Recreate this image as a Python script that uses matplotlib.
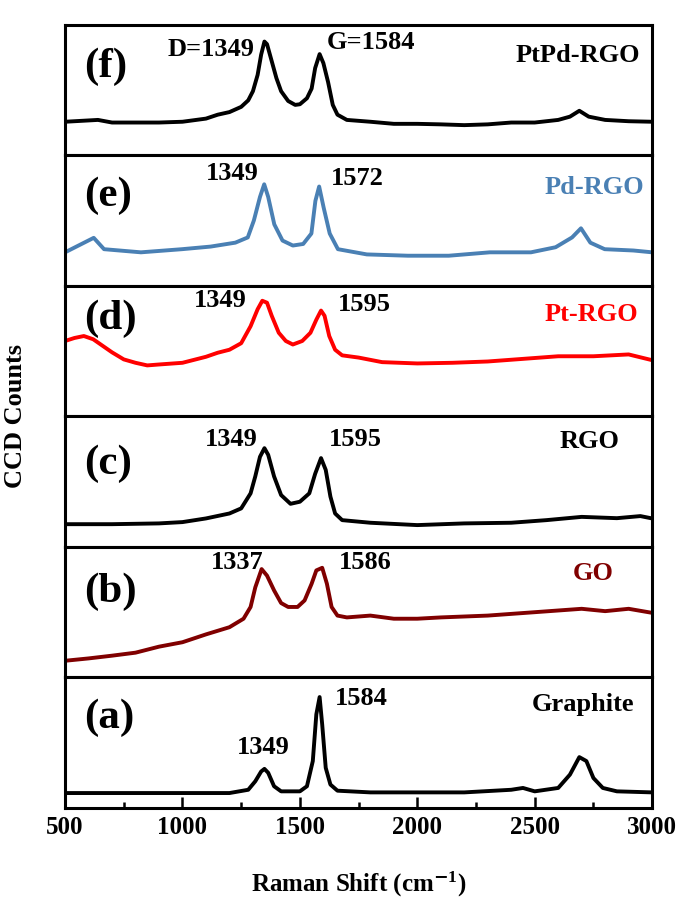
import numpy as np
from matplotlib import pyplot as plt

plt.rcParams['font.family'] = ['Liberation Serif', 'DejaVu Serif']
plt.rcParams['font.weight'] = 'bold'
plt.rcParams['axes.labelweight'] = 'bold'
plt.rcParams['mathtext.fontset'] = 'custom'
plt.rcParams['mathtext.rm'] = 'Liberation Serif:bold'
plt.rcParams['mathtext.bf'] = 'Liberation Serif:bold'
plt.rcParams['mathtext.default'] = 'rm'

# spectra (intensity in % of each panel height)
graphite_x = [500, 1000, 1200, 1280, 1310, 1335, 1349, 1365, 1390, 1420, 1500, 1530, 1555, 1570, 1584, 1595, 1610, 1630, 1660,
              1800, 2000, 2200, 2400, 2450, 2500, 2600, 2650, 2690, 2720, 2750, 2790, 2850, 3000]
graphite_y = [11.5, 11.5, 11.5, 14, 20.5, 28, 30, 27, 16.7, 12.8, 12.8, 16.7, 36, 71.8, 85, 64, 30.8, 18, 13.3,
              12, 12, 12, 14, 15.4, 12.8, 15.4, 25.6, 39, 36, 23, 15.4, 12.8, 12]

go_x = [500, 600, 700, 800, 900, 1000, 1100, 1200, 1260, 1290, 1310, 1337, 1360, 1390, 1420, 1450, 1490, 1520, 1550, 1570,
        1595, 1615, 1635, 1660, 1700, 1800, 1900, 2000, 2100, 2300, 2500, 2700, 2800, 2900, 3000]
go_y = [12.8, 14.6, 16.7, 19, 23.6, 27, 33, 38.5, 45, 54, 69, 83, 78, 66.7, 57, 54, 54, 59, 71.8, 82,
        84, 71.8, 54, 47.4, 46, 47.4, 45, 45, 46, 47.4, 50, 52.6, 50.8, 52.6, 49.5]

rgo_x = [500, 700, 900, 1000, 1100, 1200, 1250, 1290, 1310, 1330, 1349, 1365, 1390, 1420, 1460, 1500, 1540, 1565, 1590,
         1610, 1630, 1650, 1680, 1800, 2000, 2200, 2400, 2550, 2700, 2850, 2950, 3000]
rgo_y = [17.4, 17.4, 18, 19, 21.8, 25.6, 29.5, 41, 54, 69, 75.6, 70.5, 54, 39.7, 33, 34.6, 41, 56, 68,
         59, 38.5, 25.6, 20.5, 18.5, 16.7, 18, 18.5, 20.5, 23, 22, 23.6, 21.8]

pt_x = [500, 540, 580, 620, 660, 700, 750, 800, 850, 900, 1000, 1100, 1150, 1200, 1250, 1290, 1320, 1340, 1360, 1380,
        1410, 1440, 1470, 1510, 1545, 1570, 1590, 1605, 1625, 1650, 1680, 1750, 1850, 2000, 2150, 2300, 2450, 2600,
        2750, 2900, 3000]
pt_y = [57.7, 60, 61.5, 59, 54, 49, 43.6, 41, 39, 39.7, 41, 45.6, 48.7, 51, 56, 69, 82, 88.5, 87, 77,
        64, 57.7, 55, 57.7, 64, 74, 81, 77, 61.5, 51, 46.7, 45, 41.5, 40.5, 41, 42, 44, 46,
        46, 47.4, 43]

pd_x = [500, 622, 666, 823, 998, 1120, 1225, 1278, 1304, 1330, 1348, 1365, 1391, 1426, 1470, 1514, 1549, 1566, 1582,
        1601, 1627, 1662, 1785, 1960, 2134, 2309, 2484, 2589, 2659, 2697, 2737, 2798, 2920, 3000]
pd_y = [25.6, 36.7, 28, 25.6, 28, 30, 33, 37, 50, 68, 77.7, 68, 47, 34.6, 30.8, 32, 40, 65, 76,
        60, 40, 28, 24, 23, 23, 25.6, 25.6, 29.5, 37, 44, 33, 28, 27, 25.6]

ptpd_x = [500, 640, 700, 800, 900, 1000, 1100, 1150, 1200, 1250, 1280, 1300, 1320, 1335, 1349, 1360, 1380, 1400, 1420,
          1450, 1480, 1500, 1530, 1550, 1565, 1584, 1600, 1620, 1640, 1660, 1700, 1800, 1900, 2000, 2100, 2200, 2300,
          2400, 2500, 2600, 2650, 2690, 2730, 2800, 2900, 3000]
ptpd_y = [25.6, 27, 25, 25, 25, 25.6, 28, 31, 33, 37, 42, 49, 61.5, 77, 87, 85, 72, 59, 49,
          41.5, 38.5, 39, 43.6, 51, 66.7, 77.4, 70.5, 56, 38.5, 31, 27, 25.6, 24, 24, 23.6, 23, 23.6,
          25, 25, 27, 29.5, 34, 29.5, 27, 26, 25.6]

# top panel first
names = ['PtPd-RGO', 'Pd-RGO', 'Pt-RGO', 'RGO', 'GO', 'Graphite']
letters = ['(f)', '(e)', '(d)', '(c)', '(b)', '(a)']
colors = ['black', '#4a80b4', '#ff0000', 'black', '#800000', 'black']
xs = [ptpd_x, pd_x, pt_x, rgo_x, go_x, graphite_x]
ys = [ptpd_y, pd_y, pt_y, rgo_y, go_y, graphite_y]

# peak labels: (text, x, y%)
peaks = [
    [('D=1349', 1122, 81), ('G=1584', 1803, 86)],
    [('1349', 1212, 86), ('1572', 1743, 82)],
    [('1349', 1163, 88.5), ('1595', 1774, 86)],
    [('1349', 1207, 82), ('1595', 1737, 82)],
    [('1337', 1232, 87.7), ('1586', 1778, 87.7)],
    [('1349', 1344, 46), ('1584', 1760, 84)],
]
letter_y = [68, 69, 75, 64, 66, 69]
name_pos = [(0.98, 76), (0.986, 75.6), (0.976, 78), (0.944, 81), (0.934, 79.5), (0.969, 79.5)]

fig, axes = plt.subplots(6, 1, sharex=True, figsize=(6.85, 9.11), dpi=100, gridspec_kw={'hspace': 0})
fig.subplots_adjust(left=0.095, right=0.952, bottom=0.113, top=0.973)

for i in range(6):
    ax = axes[i]
    ax.plot(xs[i], ys[i], color=colors[i], lw=2.8)
    ax.set_xlim(500, 3000)
    ax.set_ylim(0, 100)
    ax.set_yticks([])
    for s in ax.spines.values():
        s.set_linewidth(2.2)
    ax.text(0.032, letter_y[i] / 100, letters[i], transform=ax.transAxes, fontsize=31, ha='left', va='center')
    for t, px, py in peaks[i]:
        ax.text(px, py, t, fontsize=19, ha='center', va='center')
    nx, ny = name_pos[i]
    ax.text(nx, ny / 100, names[i], transform=ax.transAxes, fontsize=19, ha='right', va='center', color=colors[i])
    if i < 5:
        ax.tick_params(axis='x', which='both', bottom=False, labelbottom=False)

bottom = axes[-1]
bottom.set_xticks([500, 1000, 1500, 2000, 2500, 3000])
bottom.set_xticks(np.arange(750, 3000, 500), minor=True)
bottom.tick_params(axis='x', which='major', direction='in', length=8, width=1.8, labelsize=18, pad=6)
bottom.tick_params(axis='x', which='minor', direction='in', length=4.5, width=1.8)
bottom.set_xlabel('Raman Shift (cm$^{\\mathsf{-}1}$)', fontsize=18, labelpad=22)

fig.text(0.022, 0.543, 'CCD Counts', rotation=90, fontsize=19, fontweight='bold', ha='center', va='center')

plt.savefig('out.png')
